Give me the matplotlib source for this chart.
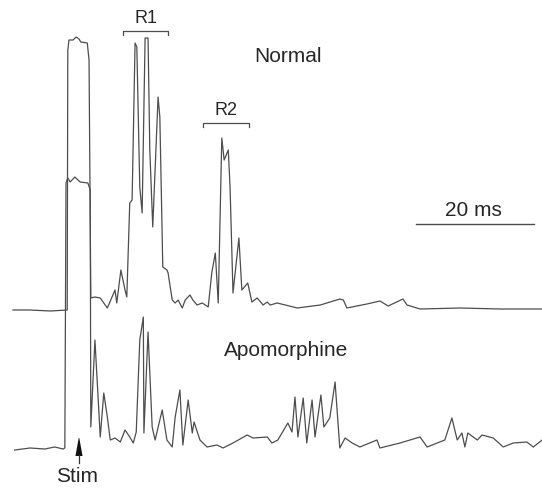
import matplotlib
matplotlib.use("Agg")
import matplotlib.pyplot as plt

plt.rcParams['font.family'] = ['Liberation Sans', 'DejaVu Sans']

# time after stimulus (ms) and amplitude (arbitrary units)
normal_t = [-11.2, -8.3, -4.9, -2.0, -1.9, -1.7, -1.0, -0.5, 0.0, 0.3, 1.4, 1.7, 2.0,
            2.7, 3.6, 4.8, 5.6, 6.1, 6.4, 7.1, 7.8, 8.1, 8.6, 9.0, 9.5, 9.8, 10.3,
            10.7, 11.2, 11.7, 12.0, 12.5, 13.4, 13.7, 14.2, 14.9, 15.1, 15.8, 16.3,
            16.8, 17.5, 18.0, 18.8, 19.3, 20.0, 20.9, 21.9, 22.5, 23.1, 23.6, 24.2,
            24.6, 25.3, 25.6, 26.1, 27.1, 27.6, 28.6, 29.3, 30.2, 31.2, 31.9, 32.4,
            33.6, 37.0, 40.9, 44.2, 44.8, 45.4, 48.8, 51.0, 52.4, 54.9, 55.6, 57.8,
            64.6, 71.4, 78.5]
normal_amp = [0, 0, -1, 0, 260, 270, 270, 273, 271, 268, 267, 250, 12,
              13, 12, 2, 13, 20, 7, 40, 20, 13, 107, 110, 267, 263, 123,
              97, 272, 272, 160, 83, 213, 193, 43, 40, 37, 10, 7,
              10, 2, 10, 15, 10, 5, 7, 3, 37, 57, 7, 172,
              150, 160, 123, 17, 72, 20, 27, 8, 12, 5, 8, 5,
              7, 2, 5, 11, 10, 2, 6, 9, 4, 11, 5, 1,
              2, 1, 1]

apo_t = [-10.9, -8.3, -5.8, -4.1, -2.7, -2.4, -2.2, -1.9, -1.5, -0.7, 0.2, 1.5, 1.9,
         2.0, 2.7, 3.1, 3.6, 4.2, 4.8, 5.3, 6.1, 7.0, 7.8, 8.6, 9.2, 9.7, 10.3,
         10.9, 11.0, 11.7, 12.4, 12.9, 14.1, 14.9, 15.8, 16.3, 17.1, 17.6, 18.5,
         19.2, 19.5, 20.5, 21.7, 23.4, 24.4, 26.1, 28.5, 29.5, 31.9, 32.7, 33.7,
         35.4, 36.1, 36.6, 37.1, 38.0, 38.6, 39.5, 40.0, 41.0, 41.5, 42.5, 43.4,
         44.2, 45.1, 46.3, 47.6, 50.5, 51.0, 54.4, 57.8, 59.0, 62.0, 63.2, 64.1,
         64.9, 65.4, 65.9, 67.5, 68.3, 70.2, 71.9, 73.6, 75.9, 77.0, 78.5]
apo_amp = [-1, 1, 0, 2, 0, 1, 266, 271, 267, 272, 267, 266, 259,
           22, 109, 66, 12, 56, 32, 9, 11, 7, 19, 12, 6, 17, 109,
           132, 16, 117, 22, 9, 39, 9, 2, 32, 59, 4, 49,
           16, 27, 9, 2, 4, 1, 6, 14, 11, 12, 6, 9,
           26, 17, 52, 12, 51, 6, 49, 12, 54, 22, 31, 67,
           1, 11, 6, 2, 9, 1, 6, 12, 2, 9, 31, 9,
           16, 2, 16, 9, 14, 11, 2, 6, 7, 2, 9]

r1_window = (7.5, 15.1)
r2_window = (21.0, 28.8)
scale_ms = 20
scale_start = 57.1

offset = 139  # vertical separation of the two sweeps
trace_col = '#4d4d4d'
text_col = '#262626'

fig = plt.figure(figsize=(5.42, 4.88), dpi=100)
ax = fig.add_axes([0, 0, 1, 1])
ax.set_xlim(-13.39, 78.47)
ax.set_ylim(-39, 449)
ax.axis('off')

ax.plot(normal_t, [a + offset for a in normal_amp], color=trace_col, lw=0.9)
ax.plot(apo_t, apo_amp, color=trace_col, lw=0.9)

# response brackets
for (t0, t1), lab, y in [(r1_window, 'R1', 418), (r2_window, 'R2', 326)]:
    ax.plot([t0, t0, t1, t1], [y - 4, y, y, y - 4], color=trace_col, lw=0.9)
    ax.text((t0 + t1) / 2, y + 12.5, lab, ha='center', va='center',
            fontsize=13, color=text_col)

ax.text(35.4, 392, 'Normal', ha='center', va='center', fontsize=15, color=text_col)
ax.text(35.1, 98, 'Apomorphine', ha='center', va='center', fontsize=15, color=text_col)

# scale bar
ax.plot([scale_start, scale_start + scale_ms], [225, 225], color=trace_col, lw=1.0)
ax.text(66.8, 238, '%d ms' % scale_ms, ha='center', va='center',
        fontsize=15, color=text_col)

# stimulus marker: stem plus filled narrow arrowhead
ax.plot([0, 0], [-14, -6], color='#333333', lw=0.9)
ax.fill([-0.6, 0.6, 0.05, -0.05], [-7, -7, 11, 11], color='#111111', lw=0)
ax.text(-0.3, -28, 'Stim', ha='center', va='center', fontsize=15, color=text_col)

fig.savefig('out.png', dpi=100, facecolor='white')
